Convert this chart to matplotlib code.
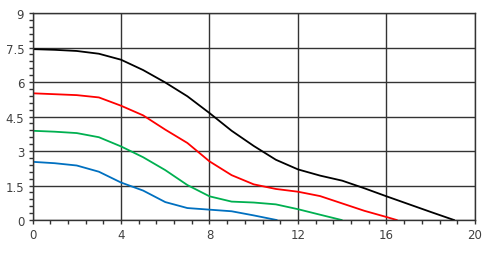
import matplotlib
matplotlib.use("Agg")
import matplotlib.pyplot as plt
from matplotlib.ticker import MultipleLocator

# values
x_black = [0, 1, 2, 3, 4, 5, 6, 7, 8, 9, 10, 11, 12, 13, 14, 15, 16, 17, 18, 19.05]
y_black = [7.43, 7.4, 7.35, 7.23, 6.97, 6.52, 5.98, 5.38, 4.65, 3.88, 3.22, 2.62, 2.2, 1.93, 1.71, 1.38, 1.03, 0.69, 0.35, 0]

x_red = [0, 1, 2, 3, 4, 5, 6, 7, 8, 9, 10, 11, 12, 13, 14, 15, 16, 16.46]
y_red = [5.51, 5.47, 5.43, 5.33, 4.97, 4.55, 3.93, 3.35, 2.55, 1.95, 1.55, 1.35, 1.23, 1.04, 0.72, 0.4, 0.13, 0]

x_green = [0, 1, 2, 3, 4, 5, 6, 7, 8, 9, 10, 11, 12, 13, 13.97]
y_green = [3.88, 3.84, 3.78, 3.6, 3.2, 2.73, 2.17, 1.52, 1.03, 0.8, 0.76, 0.68, 0.47, 0.23, 0]

x_blue = [0, 1, 2, 3, 4, 5, 6, 7, 8, 9, 10, 11.03]
y_blue = [2.53, 2.47, 2.37, 2.1, 1.63, 1.28, 0.78, 0.52, 0.45, 0.38, 0.2, 0]

x_ticks = [0, 4, 8, 12, 16, 20]
y_ticks = [0, 1.5, 3, 4.5, 6, 7.5, 9]
y_labels = ["0", "1.5", "3", "4.5", "6", "7.5", "9"]

fig = plt.figure(figsize=(4.91, 2.55), dpi=100)
ax = fig.add_axes([0.0662, 0.1333, 0.9012, 0.8117])

ax.plot(x_black, y_black, color="#000000", lw=1.3)
ax.plot(x_red, y_red, color="#ff0000", lw=1.3)
ax.plot(x_green, y_green, color="#00b050", lw=1.3)
ax.plot(x_blue, y_blue, color="#0070c0", lw=1.3)

ax.set_xlim(0, 20)
ax.set_ylim(0, 9)
ax.set_xticks(x_ticks)
ax.set_xticklabels([str(t) for t in x_ticks])
ax.set_yticks(y_ticks)
ax.set_yticklabels(y_labels)
ax.xaxis.set_minor_locator(MultipleLocator(0.8))
ax.yaxis.set_minor_locator(MultipleLocator(0.3))

gc = "#333333"
ax.grid(True, which="major", color=gc, lw=1)
for s in ax.spines.values():
    s.set_color(gc)
    s.set_linewidth(1)
ax.tick_params(which="both", direction="out", color=gc, length=3, width=1,
               labelsize=8.5, labelcolor="#404040", pad=3)

fig.savefig("out.png", dpi=100)
